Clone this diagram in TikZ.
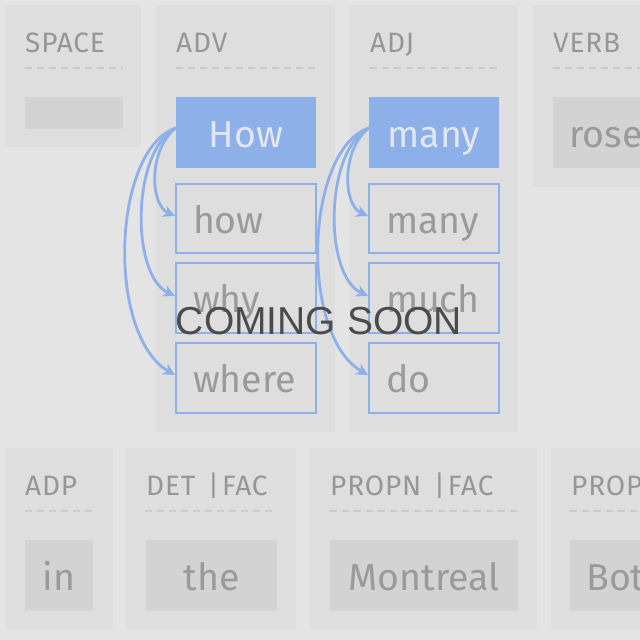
\documentclass[tikz,border=0pt]{standalone}
\usepackage{fontspec}
\setmainfont{Fira Sans}
\newfontfamily\labelfont{Fira Sans}[LetterSpace=3]
\newfontfamily\overlayfont{Liberation Sans}
\usetikzlibrary{arrows.meta}
\definecolor{bgc}{HTML}{E4E4E4}
\definecolor{panelc}{HTML}{DEDEDE}
\definecolor{wordfill}{HTML}{D3D3D3}
\definecolor{bluec}{HTML}{8DB0E8}
\definecolor{labc}{HTML}{969696}
\definecolor{wordc}{HTML}{9A9A9A}
\definecolor{dashc}{HTML}{CACACA}
\definecolor{lighttext}{HTML}{E2E7EF}
\definecolor{overc}{HTML}{4B4B4B}
\tikzset{
  panel/.style={fill=panelc, draw=none},
  poslab/.style={anchor=base west, inner sep=0pt, text=labc, font=\labelfont\fontsize{28}{30}\selectfont},
  sep/.style={draw=dashc, line width=2pt, dash pattern=on 7pt off 5pt},
  wbase/.style={inner ysep=0pt, text height=29pt, text depth=0pt, font=\fontsize{37.5}{40}\selectfont, anchor=center},
  greybox/.style={wbase, fill=wordfill, draw=none, text=wordc, align=center},
  selbox/.style={wbase, fill=bluec, draw=none, text=lighttext, align=center},
  altbox/.style={wbase, fill=panelc, draw=bluec, line width=2pt, text=wordc, inner xsep=15pt, align=left},
  arr/.style={draw=bluec, line width=2.8pt, -{Stealth[length=12pt,width=12pt]}},
}
\begin{document}
\begin{tikzpicture}[x=1pt,y=-1pt]
\useasboundingbox (0,0) rectangle (640,640);
\fill[bgc] (0,0) rectangle (640,640);
% panels
\fill[panel] (6,5) rectangle (141,147);
\fill[panel] (156,5) rectangle (335,432);
\fill[panel] (350,5) rectangle (518,432);
\fill[panel] (533,5) rectangle (660,187);
\fill[panel] (6,448) rectangle (113,630);
\fill[panel] (126,448) rectangle (296,630);
\fill[panel] (310,448) rectangle (537,630);
\fill[panel] (551,448) rectangle (660,630);
% labels
\node[poslab] (lspace) at (25,52) {SPACE};
\node[poslab] (ladv) at (176,52) {ADV};
\node[poslab] (ladj) at (370,52) {ADJ};
\node[poslab] (lverb) at (553,52) {VERB};
\node[poslab] (ladp) at (25,495) {ADP};
\node[poslab] (ldet) at (146,495) {DET\hspace{0.45em}|\hspace{0.1em}FAC};
\node[poslab] (lpropn) at (330,495) {PROPN\hspace{0.45em}|\hspace{0.1em}FAC};
\node[poslab] (lprop) at (571,495) {PROPN};
% separators
\draw[sep] (25,68) -- (123,68);
\draw[sep] (176,68) -- (316,68);
\draw[sep] (370,68) -- (500,68);
\draw[sep] (553,68) -- (645,68);
\draw[sep] (25,511) -- (93,511);
\draw[sep] (145,511) -- (277,511);
\draw[sep] (330,511) -- (518,511);
\draw[sep] (570,511) -- (645,511);
% top row words
\node[greybox, minimum width=98pt, minimum height=32pt, text height=0pt] (spacebox) at (74,113) {};
\node[selbox, minimum width=140pt, minimum height=71pt] (How) at (246,132.5) {How};
\node[altbox, minimum width=140pt, minimum height=69pt, text width=106pt] (how) at (246,218.5) {how};
\node[altbox, minimum width=140pt, minimum height=70pt, text width=106pt] (why) at (246,298) {why};
\node[altbox, minimum width=140pt, minimum height=70pt, text width=106pt] (where) at (246,378) {where};
\node[selbox, minimum width=130pt, minimum height=71pt] (many) at (434,132.5) {many};
\node[altbox, minimum width=130pt, minimum height=69pt, text width=96pt] (many2) at (434,218.5) {many};
\node[altbox, minimum width=130pt, minimum height=70pt, text width=96pt] (much) at (434,298) {much};
\node[altbox, minimum width=130pt, minimum height=70pt, text width=96pt] (do) at (434,378) {do};
\node[greybox, minimum width=110pt, minimum height=71pt, anchor=west, text width=80pt, align=left, inner xsep=16pt] (rose) at (553,132.5) {rose};
% bottom row words
\node[greybox, minimum width=68pt, minimum height=71pt] (in) at (59,575.5) {in};
\node[greybox, minimum width=131pt, minimum height=71pt] (the) at (211.5,575.5) {the};
\node[greybox, minimum width=188pt, minimum height=71pt] (montreal) at (424,575.5) {Montreal};
\node[greybox, minimum width=100pt, minimum height=71pt, anchor=west, text width=70pt, align=left, inner xsep=16pt] (bot) at (570,575.5) {Botanical};
% arrows ADV
\draw[arr] ([yshift=4.5pt]How.west) .. controls (148,150) and (150,205) .. ([yshift=2.5pt]how.west);
\draw[arr] ([yshift=4.5pt]How.west) .. controls (132,150) and (130,275) .. ([yshift=2pt]why.west);
\draw[arr] ([yshift=4.5pt]How.west) .. controls (112,150) and (106,335) .. ([yshift=3pt]where.west);
% arrows ADJ
\draw[arr] ([yshift=4.5pt]many.west) .. controls (341,150) and (343,205) .. ([yshift=2.5pt]many2.west);
\draw[arr] ([yshift=4.5pt]many.west) .. controls (325,150) and (323,275) .. ([yshift=2pt]much.west);
\draw[arr] ([yshift=4.5pt]many.west) .. controls (305,150) and (299,335) .. ([yshift=3pt]do.west);
% overlay
\node[anchor=center, inner sep=0pt, text=overc, font=\overlayfont\fontsize{39}{42}\selectfont] (soon) at (319,321.5) {COMING SOON};
\end{tikzpicture}
\end{document}
